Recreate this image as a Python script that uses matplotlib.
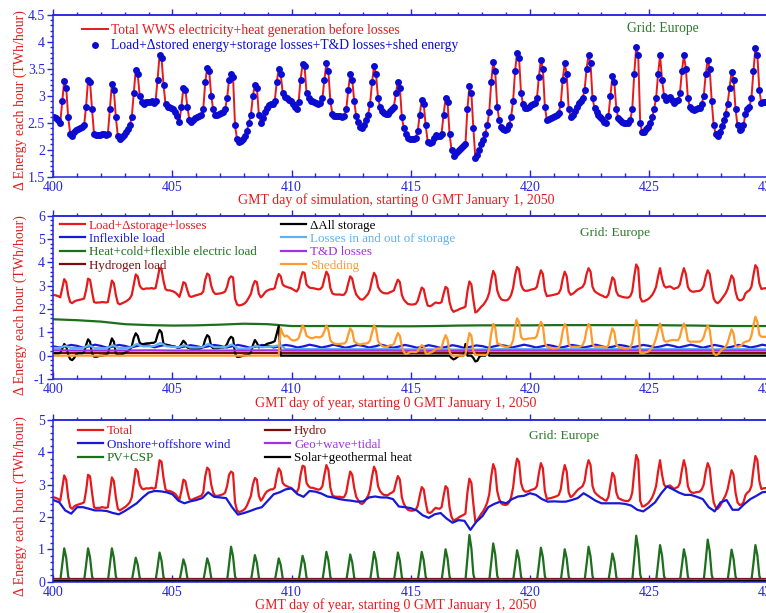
import numpy as np
import matplotlib
matplotlib.use('Agg')
import matplotlib.pyplot as plt
from matplotlib.ticker import MultipleLocator, FormatStrFormatter

plt.rcParams['font.family'] = ['Liberation Serif', 'DejaVu Serif']
plt.rcParams['axes.unicode_minus'] = False

# ---- data (TWh per hour) ----
# total WWS generation, odd hours h1..h23 of each day 400..429
TOTAL = [
  [2.60, 2.58, 2.55, 2.50, 2.90, 3.28, 3.15, 2.60, 2.30, 2.25, 2.32, 2.36],
  [2.38, 2.40, 2.42, 2.45, 2.80, 3.30, 3.25, 2.75, 2.30, 2.27, 2.28, 2.28],
  [2.30, 2.29, 2.28, 2.30, 2.75, 3.22, 3.10, 2.60, 2.25, 2.20, 2.24, 2.28],
  [2.32, 2.38, 2.45, 2.60, 3.05, 3.48, 3.40, 3.00, 2.88, 2.85, 2.88, 2.88],
  [2.88, 2.90, 2.87, 2.90, 3.30, 3.75, 3.70, 3.20, 2.85, 2.80, 2.80, 2.78],
  [2.75, 2.70, 2.62, 2.52, 2.80, 3.15, 3.10, 2.80, 2.55, 2.52, 2.55, 2.58],
  [2.60, 2.63, 2.65, 2.75, 3.25, 3.52, 3.45, 3.00, 2.75, 2.65, 2.65, 2.66],
  [2.68, 2.70, 2.75, 2.95, 3.30, 3.40, 3.35, 2.45, 2.20, 2.15, 2.17, 2.20],
  [2.25, 2.35, 2.50, 2.65, 3.00, 3.20, 3.15, 2.65, 2.50, 2.58, 2.70, 2.78],
  [2.82, 2.85, 2.85, 2.90, 3.25, 3.50, 3.40, 3.05, 2.98, 2.95, 2.92, 2.90],
  [2.85, 2.80, 2.75, 2.88, 3.30, 3.58, 3.55, 3.05, 2.95, 2.90, 2.90, 2.88],
  [2.86, 2.84, 2.86, 2.95, 3.30, 3.60, 3.45, 2.90, 2.67, 2.63, 2.62, 2.62],
  [2.62, 2.60, 2.62, 2.75, 3.10, 3.40, 3.30, 2.90, 2.62, 2.52, 2.42, 2.40],
  [2.45, 2.55, 2.65, 2.85, 3.25, 3.55, 3.40, 2.95, 2.80, 2.72, 2.68, 2.67],
  [2.67, 2.72, 2.75, 2.80, 3.05, 3.26, 3.15, 2.60, 2.40, 2.30, 2.22, 2.20],
  [2.19, 2.20, 2.22, 2.35, 2.65, 2.92, 2.85, 2.45, 2.15, 2.12, 2.15, 2.22],
  [2.28, 2.26, 2.25, 2.30, 2.65, 2.95, 2.88, 2.30, 2.00, 1.88, 1.92, 1.95],
  [2.00, 2.03, 2.06, 2.10, 2.75, 3.18, 3.05, 2.40, 1.85, 1.90, 2.00, 2.10],
  [2.18, 2.30, 2.45, 2.70, 3.25, 3.63, 3.45, 2.80, 2.55, 2.42, 2.38, 2.37],
  [2.38, 2.45, 2.60, 2.90, 3.45, 3.80, 3.70, 3.05, 2.85, 2.78, 2.78, 2.80],
  [2.83, 2.85, 2.87, 2.95, 3.35, 3.66, 3.50, 2.80, 2.55, 2.57, 2.58, 2.60],
  [2.62, 2.64, 2.68, 2.85, 3.30, 3.60, 3.40, 2.75, 2.61, 2.65, 2.72, 2.80],
  [2.86, 2.90, 2.95, 3.10, 3.50, 3.75, 3.60, 2.95, 2.77, 2.70, 2.65, 2.60],
  [2.57, 2.52, 2.50, 2.62, 3.00, 3.36, 3.25, 2.75, 2.58, 2.55, 2.52, 2.50],
  [2.49, 2.49, 2.55, 2.75, 3.40, 3.91, 3.75, 2.50, 2.32, 2.33, 2.38, 2.42],
  [2.50, 2.60, 2.75, 2.95, 3.40, 3.75, 3.30, 3.00, 2.92, 2.95, 2.97, 2.92],
  [2.86, 2.90, 2.92, 3.05, 3.45, 3.75, 3.50, 2.95, 2.80, 2.75, 2.74, 2.76],
  [2.77, 2.78, 2.85, 3.00, 3.40, 3.66, 3.50, 2.90, 2.45, 2.30, 2.25, 2.32],
  [2.43, 2.55, 2.67, 2.85, 3.15, 3.44, 3.30, 2.75, 2.45, 2.37, 2.38, 2.45],
  [2.67, 2.75, 2.80, 2.95, 3.45, 3.88, 3.75, 3.10, 2.86, 2.88, 2.89, 2.88],
]

# PV+CSP, same odd-hour grid
PV = [
  [0, 0, 0, 0.03, 0.52, 1.03, 0.74, 0.16, 0, 0, 0, 0],
  [0, 0, 0, 0.03, 0.51, 1.03, 0.75, 0.17, 0, 0, 0, 0],
  [0, 0, 0, 0.03, 0.52, 1.03, 0.73, 0.16, 0, 0, 0, 0],
  [0, 0, 0, 0.02, 0.37, 0.74, 0.53, 0.12, 0, 0, 0, 0],
  [0, 0, 0, 0.03, 0.45, 0.90, 0.65, 0.14, 0, 0, 0, 0],
  [0, 0, 0, 0.02, 0.34, 0.69, 0.50, 0.11, 0, 0, 0, 0],
  [0, 0, 0, 0.02, 0.36, 0.72, 0.52, 0.12, 0, 0, 0, 0],
  [0, 0, 0, 0.03, 0.54, 1.08, 0.78, 0.17, 0, 0, 0, 0],
  [0, 0, 0, 0.02, 0.41, 0.82, 0.59, 0.13, 0, 0, 0, 0],
  [0, 0, 0, 0.02, 0.36, 0.72, 0.52, 0.11, 0, 0, 0, 0],
  [0, 0, 0, 0.02, 0.40, 0.80, 0.58, 0.13, 0, 0, 0, 0],
  [0, 0, 0, 0.03, 0.46, 0.92, 0.66, 0.15, 0, 0, 0, 0],
  [0, 0, 0, 0.03, 0.42, 0.84, 0.60, 0.13, 0, 0, 0, 0],
  [0, 0, 0, 0.03, 0.46, 0.92, 0.66, 0.15, 0, 0, 0, 0],
  [0, 0, 0, 0.03, 0.45, 0.90, 0.65, 0.14, 0, 0, 0, 0],
  [0, 0, 0, 0.03, 0.46, 0.92, 0.66, 0.15, 0, 0, 0, 0],
  [0, 0, 0, 0.03, 0.50, 1.00, 0.72, 0.16, 0, 0, 0, 0],
  [0, 0, 0, 0.04, 0.72, 1.44, 1.04, 0.23, 0, 0, 0, 0],
  [0, 0, 0, 0.04, 0.59, 1.18, 0.85, 0.19, 0, 0, 0, 0],
  [0, 0, 0, 0.03, 0.48, 0.97, 0.70, 0.16, 0, 0, 0, 0],
  [0, 0, 0, 0.03, 0.52, 1.05, 0.76, 0.17, 0, 0, 0, 0],
  [0, 0, 0, 0.03, 0.50, 1.00, 0.72, 0.16, 0, 0, 0, 0],
  [0, 0, 0, 0.03, 0.54, 1.08, 0.78, 0.17, 0, 0, 0, 0],
  [0, 0, 0, 0.03, 0.43, 0.87, 0.63, 0.14, 0, 0, 0, 0],
  [0, 0, 0, 0.04, 0.71, 1.42, 1.02, 0.23, 0, 0, 0, 0],
  [0, 0, 0, 0.03, 0.56, 1.13, 0.81, 0.18, 0, 0, 0, 0],
  [0, 0, 0, 0.03, 0.50, 1.00, 0.72, 0.16, 0, 0, 0, 0],
  [0, 0, 0, 0.04, 0.65, 1.30, 0.94, 0.21, 0, 0, 0, 0],
  [0, 0, 0, 0.03, 0.49, 0.99, 0.71, 0.16, 0, 0, 0, 0],
  [0, 0, 0, 0.03, 0.56, 1.13, 0.81, 0.18, 0, 0, 0, 0],
]

# shedding, odd-hour grid
SHED = [
  [0] * 12, [0] * 12, [0] * 12, [0] * 12, [0] * 12,
  [0] * 12, [0] * 12, [0] * 12, [0] * 12,
  [0, 0, 0, 0, 0, 0, 1.17, 0.95, 0.82, 0.86, 0.80, 0.70],
  [0.66, 0.65, 0.68, 0.75, 1.00, 1.30, 1.15, 0.85, 0.80, 0.76, 0.75, 0.78],
  [0.80, 0.78, 0.80, 0.85, 1.05, 1.30, 1.10, 0.66, 0.56, 0.52, 0.50, 0.50],
  [0.50, 0.52, 0.52, 0.60, 0.90, 1.17, 1.05, 0.62, 0.55, 0.50, 0.48, 0.50],
  [0.52, 0.52, 0.55, 0.65, 1.00, 1.30, 1.15, 0.62, 0.50, 0.42, 0.38, 0.38],
  [0.40, 0.45, 0.45, 0.50, 0.75, 0.97, 0.85, 0.38, 0.15, 0.07, 0.10, 0.15],
  [0.17, 0.16, 0.15, 0.20, 0.35, 0.45, 0.40, 0.10, 0.08, 0.12, 0.15, 0.20],
  [0.28, 0.31, 0.30, 0.35, 0.65, 0.88, 0.70, 0.17, 0.02, 0, 0, 0],
  [0, 0, 0, 0.05, 0.55, 0.97, 0.85, 0.20, 0.03, 0.03, 0.03, 0.03],
  [0.03, 0.03, 0.05, 0.30, 0.95, 1.36, 1.20, 0.55, 0.50, 0.45, 0.40, 0.38],
  [0.38, 0.40, 0.45, 0.65, 1.20, 1.60, 1.45, 0.80, 0.70, 0.70, 0.72, 0.74],
  [0.74, 0.75, 0.75, 0.85, 1.20, 1.45, 1.30, 0.55, 0.38, 0.36, 0.33, 0.31],
  [0.31, 0.32, 0.35, 0.55, 1.05, 1.36, 1.20, 0.50, 0.38, 0.38, 0.38, 0.38],
  [0.38, 0.40, 0.45, 0.65, 1.10, 1.36, 1.20, 0.50, 0.38, 0.38, 0.38, 0.38],
  [0.38, 0.36, 0.35, 0.45, 0.85, 1.17, 1.00, 0.45, 0.38, 0.35, 0.33, 0.31],
  [0.31, 0.31, 0.35, 0.55, 1.05, 1.52, 1.30, 0.12, 0.10, 0.12, 0.15, 0.17],
  [0.25, 0.35, 0.50, 0.75, 1.10, 1.38, 1.05, 0.65, 0.60, 0.62, 0.65, 0.67],
  [0.67, 0.66, 0.66, 0.80, 1.15, 1.38, 1.15, 0.65, 0.60, 0.60, 0.60, 0.60],
  [0.60, 0.60, 0.65, 0.80, 1.10, 1.30, 1.10, 0.45, 0.10, 0.03, 0.05, 0.15],
  [0.25, 0.30, 0.38, 0.55, 0.85, 1.13, 0.95, 0.40, 0.38, 0.40, 0.45, 0.55],
  [0.60, 0.62, 0.65, 0.85, 1.30, 1.67, 1.45, 0.90, 0.81, 0.81, 0.81, 0.81],
]

# change in all storage, odd-hour grid
STORAGE = [
  [0.10, 0.10, 0.10, 0.12, 0.30, 0.50, 0.40, 0.05, -0.15, -0.19, -0.10, 0.05],
  [0.10, 0.10, 0.10, 0.15, 0.45, 0.70, 0.60, 0.10, -0.04, -0.05, -0.03, 0.00],
  [0.00, 0.02, 0.03, 0.10, 0.45, 0.74, 0.60, 0.10, 0.03, 0.03, 0.05, 0.10],
  [0.15, 0.20, 0.25, 0.40, 0.75, 0.96, 0.85, 0.55, 0.50, 0.50, 0.52, 0.53],
  [0.53, 0.55, 0.55, 0.60, 0.90, 1.10, 1.00, 0.50, 0.47, 0.45, 0.43, 0.40],
  [0.40, 0.38, 0.35, 0.35, 0.50, 0.64, 0.55, 0.35, 0.32, 0.30, 0.30, 0.30],
  [0.30, 0.30, 0.32, 0.40, 0.70, 0.88, 0.80, 0.40, 0.32, 0.32, 0.32, 0.33],
  [0.35, 0.35, 0.38, 0.50, 0.70, 0.81, 0.75, 0.10, -0.05, -0.05, -0.03, 0.00],
  [0.02, 0.02, 0.05, 0.15, 0.45, 0.67, 0.55, 0.35, 0.40, 0.42, 0.45, 0.50],
  [0.53, 0.55, 0.58, 0.62, 0.95, 1.27, 0, 0, 0, 0, 0, 0],
  [0] * 12, [0] * 12, [0] * 12, [0] * 12, [0] * 12, [0] * 12,
  [0, 0, 0, 0, 0, 0, 0, 0, -0.10, -0.16, -0.12, -0.05],
  [0, 0, 0, 0.50, 0, 0, 0, -0.10, -0.25, -0.22, -0.05, 0],
  [0, 0, 0.17, 0, 0, 0, 0, 0, 0, 0, 0, 0],
  [0] * 12, [0] * 12, [0] * 12, [0] * 12, [0] * 12, [0] * 12,
  [0] * 12, [0] * 12, [0] * 12, [0] * 12, [0] * 12,
]

# onshore+offshore wind, every 6 h (h0, h6, h12, h18), last value at day 430
WIND = [
  2.52, 2.45, 2.20, 2.10,  2.30, 2.30, 2.25, 2.20,  2.20, 2.18, 2.12, 2.08,
  2.18, 2.30, 2.42, 2.60,  2.75, 2.80, 2.79, 2.76,  2.70, 2.50, 2.42, 2.48,
  2.52, 2.58, 2.76, 2.62,  2.60, 2.58, 2.30, 2.07,  2.12, 2.18, 2.25, 2.30,
  2.50, 2.70, 2.76, 2.85,  2.88, 2.70, 2.62, 2.80,  2.78, 2.72, 2.63, 2.60,
  2.55, 2.52, 2.50, 2.47,  2.48, 2.60, 2.63, 2.60,  2.60, 2.55, 2.32, 2.30,
  2.27, 2.20, 2.05, 1.97,  2.08, 2.12, 1.95, 1.82,  1.90, 1.88, 1.60, 1.85,
  2.02, 2.30, 2.40, 2.47,  2.42, 2.55, 2.63, 2.65,  2.73, 2.68, 2.55, 2.47,
  2.48, 2.47, 2.47, 2.52,  2.58, 2.73, 2.62, 2.50,  2.42, 2.42, 2.42, 2.42,
  2.40, 2.35, 2.22, 2.17,  2.30, 2.45, 2.72, 2.94,  2.85, 2.75, 2.68, 2.68,
  2.62, 2.55, 2.30, 2.17,  2.45, 2.52, 2.22, 2.22,  2.40, 2.55, 2.65, 2.76,
  2.78,
]

# inflexible load, every 6 h
INFLEXIBLE = [
  0.40, 0.35, 0.40, 0.46,  0.42, 0.34, 0.40, 0.47,  0.42, 0.34, 0.39, 0.46,
  0.42, 0.35, 0.41, 0.47,  0.43, 0.36, 0.42, 0.47,  0.41, 0.34, 0.39, 0.45,
  0.41, 0.35, 0.40, 0.46,  0.42, 0.35, 0.40, 0.46,  0.41, 0.34, 0.39, 0.46,
  0.42, 0.35, 0.40, 0.46,  0.42, 0.35, 0.40, 0.47,  0.42, 0.35, 0.40, 0.47,
  0.41, 0.34, 0.39, 0.46,  0.42, 0.35, 0.40, 0.47,  0.41, 0.34, 0.39, 0.46,
  0.41, 0.34, 0.38, 0.45,  0.40, 0.33, 0.38, 0.45,  0.40, 0.33, 0.38, 0.44,
  0.41, 0.34, 0.40, 0.46,  0.42, 0.35, 0.41, 0.47,  0.42, 0.35, 0.40, 0.46,
  0.41, 0.34, 0.39, 0.46,  0.42, 0.35, 0.40, 0.47,  0.41, 0.34, 0.39, 0.46,
  0.42, 0.35, 0.40, 0.46,  0.42, 0.35, 0.40, 0.47,  0.42, 0.35, 0.41, 0.47,
  0.41, 0.34, 0.40, 0.46,  0.41, 0.34, 0.39, 0.46,  0.42, 0.35, 0.40, 0.47,
  0.42,
]

# losses in and out of storage, every 6 h
STORAGE_LOSS = [
  0.33, 0.33, 0.42, 0.33,  0.33, 0.33, 0.45, 0.32,  0.32, 0.32, 0.45, 0.32,
  0.33, 0.35, 0.50, 0.40,  0.40, 0.42, 0.55, 0.40,  0.38, 0.36, 0.45, 0.35,
  0.35, 0.36, 0.50, 0.36,  0.36, 0.38, 0.48, 0.30,  0.30, 0.32, 0.42, 0.36,
  0.38, 0.40, 0.45, 0.28,  0.28, 0.28, 0.29, 0.28,  0.28, 0.28, 0.29, 0.28,
  0.28, 0.28, 0.28, 0.28,  0.28, 0.28, 0.29, 0.28,  0.28, 0.28, 0.28, 0.27,
  0.27, 0.27, 0.27, 0.27,  0.27, 0.27, 0.28, 0.26,  0.26, 0.27, 0.28, 0.26,
  0.27, 0.27, 0.28, 0.28,  0.28, 0.28, 0.29, 0.28,  0.28, 0.28, 0.28, 0.28,
  0.28, 0.28, 0.28, 0.28,  0.28, 0.28, 0.29, 0.28,  0.28, 0.28, 0.28, 0.28,
  0.28, 0.28, 0.29, 0.27,  0.28, 0.28, 0.29, 0.28,  0.28, 0.28, 0.29, 0.28,
  0.28, 0.28, 0.28, 0.27,  0.28, 0.28, 0.28, 0.28,  0.28, 0.28, 0.29, 0.28,
  0.28,
]

# daily values, day 400..430
DAYS = list(range(400, 431))
HEAT_LOAD = [1.56, 1.52, 1.46, 1.35, 1.31, 1.29, 1.30, 1.33, 1.37, 1.35, 1.27,
             1.27, 1.27, 1.27, 1.26, 1.26, 1.27, 1.29, 1.30, 1.30, 1.30, 1.31,
             1.31, 1.31, 1.31, 1.31, 1.30, 1.29, 1.27, 1.27, 1.27]
TD_LOSS = [0.23, 0.22, 0.22, 0.22, 0.23, 0.22, 0.22, 0.22, 0.22, 0.23, 0.22,
           0.22, 0.22, 0.22, 0.22, 0.21, 0.21, 0.21, 0.22, 0.22, 0.22, 0.22,
           0.22, 0.22, 0.22, 0.22, 0.22, 0.22, 0.22, 0.22, 0.22]

# nearly flat series, start and end of the period
FLAT_DAYS = [400, 430]
HYDROGEN = [0.10, 0.10]
HYDRO = [0.08, 0.08]
GEO = [0.05, 0.05]
SOLAR_HEAT = [0.02, 0.02]

# ---- styles ----
W, H = 766, 613
AXBLUE = '#2626dc'
RED = '#e41a1c'
DOTBLUE = '#0c0cd0'
WINDBLUE = '#1818d6'
GREEN = '#1d6f1d'
GRIDGREEN = '#2a7a2a'
MAROON = '#7a0c0c'
LIGHTBLUE = '#5cb2f2'
PURPLE = '#a032e0'
ORANGE = '#ff9a2c'

tOdd = 400 + (2 * np.arange(360) + 1) / 24.0
tSix = 400 + np.arange(121) / 4.0


def axRect(top, bottom):
  return [53.3 / W, 1 - bottom / H, (768.3 - 53.3) / W, (bottom - top) / H]


def styleAxis(ax, ymin, ymax, major, minor):
  ax.set_xlim(400, 430)
  ax.set_ylim(ymin, ymax)
  for side in ['left', 'bottom', 'top', 'right']:
    ax.spines[side].set_color(AXBLUE)
    ax.spines[side].set_linewidth(1.1)
  ax.xaxis.set_major_locator(MultipleLocator(5))
  ax.xaxis.set_minor_locator(MultipleLocator(1))
  ax.yaxis.set_major_locator(MultipleLocator(major))
  ax.yaxis.set_minor_locator(MultipleLocator(minor))
  ax.yaxis.set_major_formatter(FormatStrFormatter('%g'))
  ax.tick_params(axis='x', which='both', direction='in', colors=AXBLUE,
                 labelsize=10, pad=3, top=False)
  ax.tick_params(axis='x', which='major', length=5, width=1)
  ax.tick_params(axis='x', which='minor', length=3, width=1)
  ax.tick_params(axis='y', which='both', direction='out', colors=AXBLUE,
                 labelsize=10, pad=2, right=False)
  ax.tick_params(axis='y', which='major', length=4, width=1)
  ax.tick_params(axis='y', which='minor', length=2.5, width=1)
  # ticks on the top edge point outward
  top = ax.secondary_xaxis('top')
  top.xaxis.set_major_locator(MultipleLocator(5))
  top.xaxis.set_minor_locator(MultipleLocator(1))
  top.tick_params(which='both', direction='out', colors=AXBLUE, labeltop=False)
  top.tick_params(which='major', length=4, width=1)
  top.tick_params(which='minor', length=2.5, width=1)
  top.spines['top'].set_color(AXBLUE)
  top.spines['top'].set_linewidth(1.1)


def axisLabels(ycenter, xlabel, xlabelY):
  fig.text(20 / W, 1 - ycenter / H, 'Δ Energy each hour (TWh/hour)', rotation=90,
           ha='center', va='center', color=RED, fontsize=10)
  fig.text(396 / W, 1 - xlabelY / H, xlabel, ha='center', va='center',
           color=RED, fontsize=10)


fig = plt.figure(figsize=(W / 100, H / 100), dpi=100)

total = np.ravel(TOTAL)

# top panel: generation vs. load
ax1 = fig.add_axes(axRect(14.7, 176.7))
ax1.plot(tOdd, total, color=RED, lw=1.4,
         label='Total WWS electricity+heat generation before losses')
ax1.plot(tOdd, total, 'o', color=DOTBLUE, markersize=5.0, markeredgewidth=0,
         label='Load+Δstored energy+storage losses+T&D losses+shed energy')
styleAxis(ax1, 1.5, 4.5, 0.5, 0.1)
ax1.legend(loc='upper left', bbox_to_anchor=(0.040, 0.950), frameon=False,
           labelcolor='linecolor', fontsize=9.8, handlelength=1.9,
           handletextpad=0.25, borderpad=0, borderaxespad=0, labelspacing=0.2,
           numpoints=1)
ax1.text(0.853, 0.912, 'Grid: Europe', transform=ax1.transAxes, ha='center',
         va='center', color=GRIDGREEN, fontsize=9.8)
axisLabels(100, 'GMT day of simulation, starting 0 GMT January 1, 2050', 200)

# middle panel: load components
ax2 = fig.add_axes(axRect(215.7, 379.0))
ax2.plot(tOdd, total, color=RED, lw=1.6, label='Load+Δstorage+losses')
ax2.plot(tSix, INFLEXIBLE, color=WINDBLUE, lw=1.6, label='Inflexible load')
ax2.plot(DAYS, HEAT_LOAD, color=GREEN, lw=1.6,
         label='Heat+cold+flexible electric load')
ax2.plot(FLAT_DAYS, HYDROGEN, color=MAROON, lw=1.6, label='Hydrogen load')
ax2.plot(tOdd, np.ravel(STORAGE), color='black', lw=1.6, label='ΔAll storage')
ax2.plot(tSix, STORAGE_LOSS, color=LIGHTBLUE, lw=1.6,
         label='Losses in and out of storage')
ax2.plot(DAYS, TD_LOSS, color=PURPLE, lw=1.6, label='T&D losses')
ax2.plot(tOdd, np.ravel(SHED), color=ORANGE, lw=1.6, label='Shedding')
styleAxis(ax2, -1, 6, 1, 0.2)
ax2.legend(loc='upper left', bbox_to_anchor=(0.0094, 0.977), frameon=False,
           labelcolor='linecolor', fontsize=9.4, ncol=2, handlelength=1.9,
           handletextpad=0.3, columnspacing=1.9, borderpad=0, borderaxespad=0,
           labelspacing=0.1)
ax2.text(0.786, 0.894, 'Grid: Europe', transform=ax2.transAxes, ha='center',
         va='center', color=GRIDGREEN, fontsize=9.6)
axisLabels(305, 'GMT day of year, starting 0 GMT January 1, 2050', 403)

# bottom panel: generation by source
ax3 = fig.add_axes(axRect(419.7, 581.7))
ax3.plot(tOdd, total, color=RED, lw=1.6, label='Total')
ax3.plot(tSix, WIND, color=WINDBLUE, lw=1.6, label='Onshore+offshore wind')
ax3.plot(tOdd, np.ravel(PV), color=GREEN, lw=1.6, label='PV+CSP')
ax3.plot(FLAT_DAYS, HYDRO, color=MAROON, lw=1.6, label='Hydro')
ax3.plot(FLAT_DAYS, GEO, color=PURPLE, lw=1.6, label='Geo+wave+tidal')
ax3.plot(FLAT_DAYS, SOLAR_HEAT, color='black', lw=1.6,
         label='Solar+geothermal heat')
styleAxis(ax3, 0, 5, 1, 0.2)
ax3.legend(loc='upper left', bbox_to_anchor=(0.0345, 0.966), frameon=False,
           labelcolor='linecolor', fontsize=9.4, ncol=2, handlelength=1.9,
           handletextpad=0.3, columnspacing=2.7, borderpad=0, borderaxespad=0,
           labelspacing=0.1)
ax3.text(0.714, 0.901, 'Grid: Europe', transform=ax3.transAxes, ha='center',
         va='center', color=GRIDGREEN, fontsize=9.6)
axisLabels(506, 'GMT day of year, starting 0 GMT January 1, 2050', 605)

fig.savefig('out.png', dpi=100)
